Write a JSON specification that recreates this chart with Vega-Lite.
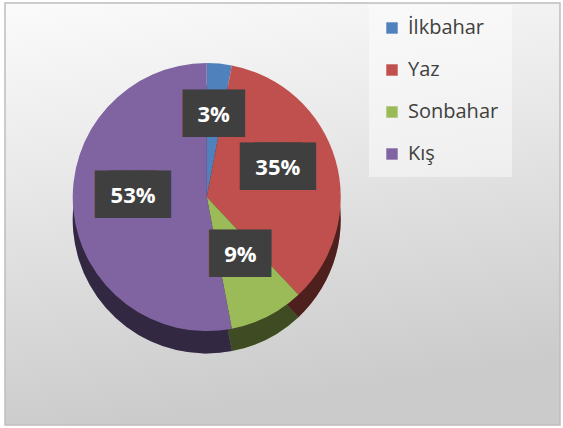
{
  "$schema": "https://vega.github.io/schema/vega-lite/v6.json",
  "autosize": {"type": "fit", "contains": "padding"},
  "width": 563,
  "height": 428,
  "padding": {"left": 5, "top": 3, "right": 3, "bottom": 3},
  "background": "white",
  "config": {
    "view": {
      "stroke": "#bdbdbd",
      "strokeWidth": 1.5,
      "fill": {
        "gradient": "linear", "x1": 0, "y1": 0, "x2": 0.2, "y2": 1,
        "stops": [{"offset": 0, "color": "#fbfbfb"}, {"offset": 0.4, "color": "#e9e9e9"}, {"offset": 1, "color": "#cbcbcb"}]
      }
    }
  },
  "data": {
    "values": [
      {"mevsim": "İlkbahar", "pay": 0.03, "sira": 1},
      {"mevsim": "Yaz", "pay": 0.35, "sira": 2},
      {"mevsim": "Sonbahar", "pay": 0.09, "sira": 3},
      {"mevsim": "Kış", "pay": 0.53, "sira": 4}
    ]
  },
  "encoding": {
    "theta": {"field": "pay", "type": "quantitative", "stack": true},
    "order": {"field": "sira", "type": "quantitative"},
    "x": {"datum": 0.3635, "type": "quantitative", "scale": {"domain": [0, 1], "nice": false, "zero": false}, "axis": null}
  },
  "layer": [
    {
      "mark": {"type": "arc", "outerRadius": 134},
      "encoding": {
        "y": {"datum": 0.487, "type": "quantitative", "scale": {"domain": [0, 1], "nice": false, "zero": false}, "axis": null},
        "color": {
          "field": "mevsim", "type": "nominal",
          "scale": {"domain": ["İlkbahar", "Yaz", "Sonbahar", "Kış"], "range": ["#4f81bd", "#c0504d", "#9bbb59", "#8064a2"]},
          "legend": {
            "title": null, "orient": "none", "legendX": 364, "legendY": 2,
            "symbolType": "square", "symbolSize": 130, "symbolStrokeWidth": 0,
            "labelFont": "Open Sans", "labelFontSize": 20, "labelColor": "#404040",
            "labelOffset": 6, "rowPadding": 22, "padding": 13,
            "fillColor": "rgba(255,255,255,0.45)"
          }
        }
      }
    },
    {
      "mark": {"type": "arc", "outerRadius": 134, "color": "black", "opacity": 0.6},
      "encoding": {
        "y": {"datum": 0.487, "type": "quantitative", "scale": {"domain": [0, 1], "nice": false, "zero": false}, "axis": null},
        "detail": {"field": "mevsim", "type": "nominal"}
      }
    },
    {
      "mark": {"type": "arc", "outerRadius": 134},
      "encoding": {
        "y": {"datum": 0.54, "type": "quantitative", "scale": {"domain": [0, 1], "nice": false, "zero": false}, "axis": null},
        "color": {"field": "mevsim", "type": "nominal"}
      }
    },
    {
      "mark": {"type": "text", "radius": 74, "dx": -7, "font": "DejaVu Sans", "fontSize": 40, "color": "#3f3f3f", "baseline": "middle", "align": "center"},
      "encoding": {
        "y": {"datum": 0.559, "type": "quantitative", "scale": {"domain": [0, 1], "nice": false, "zero": false}, "axis": null},
        "detail": {"field": "mevsim", "type": "nominal"},
        "text": {"value": "██"},
        "opacity": {"condition": {"test": "datum.pay >= 0.1", "value": 1}, "value": 0}
      }
    },
    {
      "mark": {"type": "text", "radius": 74, "dx": 7, "font": "DejaVu Sans", "fontSize": 40, "color": "#3f3f3f", "baseline": "middle", "align": "center"},
      "encoding": {
        "y": {"datum": 0.559, "type": "quantitative", "scale": {"domain": [0, 1], "nice": false, "zero": false}, "axis": null},
        "detail": {"field": "mevsim", "type": "nominal"},
        "text": {"value": "██"},
        "opacity": {"condition": {"test": "datum.pay >= 0.1", "value": 1}, "value": 0}
      }
    },
    {
      "mark": {"type": "text", "radius": 74, "font": "DejaVu Sans", "fontSize": 40, "color": "#3f3f3f", "baseline": "middle", "align": "center"},
      "encoding": {
        "y": {"datum": 0.559, "type": "quantitative", "scale": {"domain": [0, 1], "nice": false, "zero": false}, "axis": null},
        "detail": {"field": "mevsim", "type": "nominal"},
        "text": {"value": "██"},
        "opacity": {"condition": {"test": "datum.pay >= 0.1", "value": 0}, "value": 1}
      }
    },
    {
      "mark": {"type": "text", "radius": 74, "font": "Open Sans", "fontWeight": "bold", "fontSize": 22, "color": "white", "baseline": "middle", "align": "center"},
      "encoding": {
        "y": {"datum": 0.559, "type": "quantitative", "scale": {"domain": [0, 1], "nice": false, "zero": false}, "axis": null},
        "detail": {"field": "mevsim", "type": "nominal"},
        "text": {"field": "pay", "type": "quantitative", "format": ".0%"}
      }
    }
  ]
}
